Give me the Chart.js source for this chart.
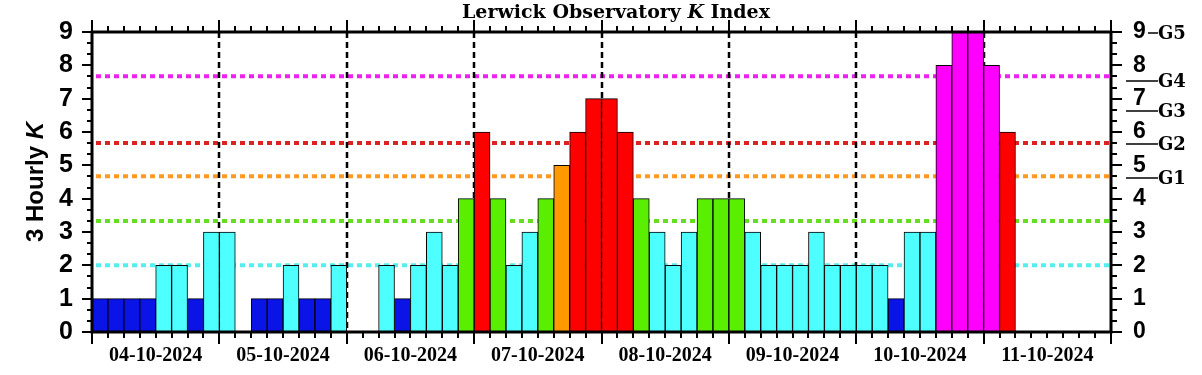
<!DOCTYPE html>
<html>
<head>
<meta charset="utf-8">
<script src="https://cdn.jsdelivr.net/npm/chart.js@4.4.1/dist/chart.umd.min.js"></script>
<style>
  html, body { margin: 0; padding: 0; background: #fff; }
  canvas { display: block; }
</style>
</head>
<body>
<canvas id="kChart" width="1202" height="375"></canvas>
<script>
// one label per day, 8 three-hourly K values per day
const days = ['04-10-2024', '05-10-2024', '06-10-2024', '07-10-2024',
              '08-10-2024', '09-10-2024', '10-10-2024', '11-10-2024'];
const kValues = [
  1, 1, 1, 1, 2, 2, 1, 3,
  3, 0, 1, 1, 2, 1, 1, 2,
  0, 0, 2, 1, 2, 3, 2, 4,
  6, 4, 2, 3, 4, 5, 6, 7,
  7, 6, 4, 3, 2, 3, 4, 4,
  4, 3, 2, 2, 2, 3, 2, 2,
  2, 2, 1, 3, 3, 8, 9, 9,
  8, 6, null, null, null, null, null, null
];
const thresholdLevels = [2, 3.33, 4.67, 5.67, 7.67];
const thresholdColors = ['#55eeee', '#66dd22', '#ff9922', '#dd2222', '#ee22ee'];
const gLabels = ['G1', 'G2', 'G3', 'G4', 'G5'];
const gLevels = [4.67, 5.7, 6.7, 7.6, 9];

const slots = [];
days.forEach(d => {
  for (let h = 0; h < 24; h += 3) slots.push(d + ' ' + String(h).padStart(2, '0') + ':00');
});

function kColor(k) {
  if (k == null || k <= 1) return '#0b14e6';
  if (k <= 3) return '#4dffff';
  if (k === 4) return '#5aee00';
  if (k === 5) return '#ff9900';
  if (k <= 7) return '#ff0000';
  return '#ff00ff';
}

function edgePx(x, i) {
  const w = x.getPixelForValue(1) - x.getPixelForValue(0);
  return x.getPixelForValue(i) - w / 2;
}

function drawRuns(ctx, runs, cx, y) {
  let total = 0;
  runs.forEach(r => { ctx.font = r.font; r.w = ctx.measureText(r.text).width; total += r.w; });
  let px = cx - total / 2;
  runs.forEach(r => { ctx.font = r.font; ctx.fillText(r.text, px, y); px += r.w; });
}

// keep tick-label padding from pushing the plot area around
function fixSize(prop, size) {
  return s => {
    s[prop] = size;
    s.paddingTop = 0; s.paddingBottom = 0; s.paddingLeft = 0; s.paddingRight = 0;
  };
}

const kFrame = {
  id: 'kFrame',
  beforeDatasetsDraw(chart) {
    const { ctx, chartArea: a, scales: { x, y } } = chart;
    ctx.save();
    ctx.lineWidth = 4;
    ctx.setLineDash([5, 4]);
    thresholdLevels.forEach((lv, i) => {
      const py = y.getPixelForValue(lv);
      ctx.strokeStyle = thresholdColors[i];
      ctx.beginPath(); ctx.moveTo(a.left + 4, py); ctx.lineTo(a.right - 2, py); ctx.stroke();
    });
    ctx.strokeStyle = '#000';
    ctx.lineWidth = 2.5;
    ctx.setLineDash([6, 4]);
    for (let d = 1; d < days.length; d++) {
      const px = Math.round(edgePx(x, d * 8));
      ctx.beginPath(); ctx.moveTo(px, a.top); ctx.lineTo(px, a.bottom); ctx.stroke();
    }
    ctx.restore();
  },
  afterDraw(chart) {
    const { ctx, chartArea: a, scales: { x, y } } = chart;
    ctx.save();
    ctx.strokeStyle = '#000';
    ctx.fillStyle = '#000';
    ctx.lineWidth = 3;
    ctx.strokeRect(a.left, a.top, a.right - a.left, a.bottom - a.top);

    // ticks on top and bottom at every 3h boundary, longer at day change
    ctx.lineWidth = 2;
    ctx.beginPath();
    for (let i = 0; i <= kValues.length; i++) {
      const px = Math.round(edgePx(x, i));
      const len = i % 8 === 0 ? 12 : 6;
      ctx.moveTo(px, a.bottom); ctx.lineTo(px, a.bottom + len);
      ctx.moveTo(px, a.top); ctx.lineTo(px, a.top - len);
    }
    // y ticks every 1/3
    for (let j = 0; j <= 27; j++) {
      const py = Math.round(y.getPixelForValue(j / 3));
      const len = j % 3 === 0 ? 10 : 5;
      ctx.moveTo(a.left, py); ctx.lineTo(a.left - len, py);
      ctx.moveTo(a.right, py); ctx.lineTo(a.right + len + 1, py);
    }
    ctx.stroke();

    // G scale on the right
    ctx.lineWidth = 1.5;
    ctx.font = 'bold 18px "DejaVu Serif"';
    ctx.textBaseline = 'middle';
    ctx.textAlign = 'left';
    gLevels.forEach((lv, i) => {
      const py = Math.round(y.getPixelForValue(lv)) + (i === 4 ? 1 : 2);
      const x0 = i === 4 ? 1148 : 1126;
      ctx.beginPath(); ctx.moveTo(x0, py); ctx.lineTo(1158, py); ctx.stroke();
      ctx.fillText(gLabels[i], 1158, py + 1);
    });

    // title
    ctx.textBaseline = 'alphabetic';
    drawRuns(ctx, [
      { text: 'Lerwick Observatory ', font: 'bold 19px "DejaVu Serif"' },
      { text: 'K', font: 'italic bold 19px "DejaVu Serif"' },
      { text: ' Index', font: 'bold 19px "DejaVu Serif"' }
    ], 616, 18);

    // y axis title
    ctx.translate(43, 182);
    ctx.rotate(-Math.PI / 2);
    drawRuns(ctx, [
      { text: '3 Hourly ', font: 'bold 24px "Liberation Sans"' },
      { text: 'K', font: 'italic bold 24px "Liberation Sans"' }
    ], 0, 0);
    ctx.restore();
  }
};

new Chart(document.getElementById('kChart'), {
  type: 'bar',
  data: {
    labels: slots,
    datasets: [{
      data: kValues,
      backgroundColor: kValues.map(kColor),
      borderColor: '#000',
      borderWidth: 1,
      borderSkipped: false,
      barPercentage: 1,
      categoryPercentage: 1
    }]
  },
  options: {
    responsive: false,
    animation: false,
    layout: { padding: { top: 32, left: 0, right: 0, bottom: 0 } },
    plugins: { legend: { display: false }, tooltip: { enabled: false } },
    scales: {
      x: {
        grid: { display: false, drawTicks: false },
        border: { display: false },
        afterFit: fixSize('height', 43),
        ticks: {
          autoSkip: false,
          maxRotation: 0,
          padding: 12,
          labelOffset: -8,
          color: '#000',
          font: { family: '"Liberation Serif"', size: 20, weight: 'bold' },
          callback: (v, i) => (i % 8 === 4 ? days[Math.floor(i / 8)] : '')
        }
      },
      y: {
        min: 0, max: 9,
        grid: { display: false, drawTicks: false },
        border: { display: false },
        afterFit: fixSize('width', 92),
        ticks: {
          stepSize: 1,
          autoSkip: false,
          padding: 19,
          color: '#000',
          font: { family: '"Liberation Sans"', size: 25, weight: 'bold' }
        }
      },
      y2: {
        position: 'right',
        display: true,
        min: 0, max: 9,
        grid: { display: false, drawTicks: false },
        border: { display: false },
        afterFit: fixSize('width', 91),
        ticks: {
          stepSize: 1,
          autoSkip: false,
          padding: 22,
          color: '#000',
          font: { family: '"Liberation Sans"', size: 23, weight: 'bold' }
        }
      }
    }
  },
  plugins: [kFrame]
});
</script>
</body>
</html>
